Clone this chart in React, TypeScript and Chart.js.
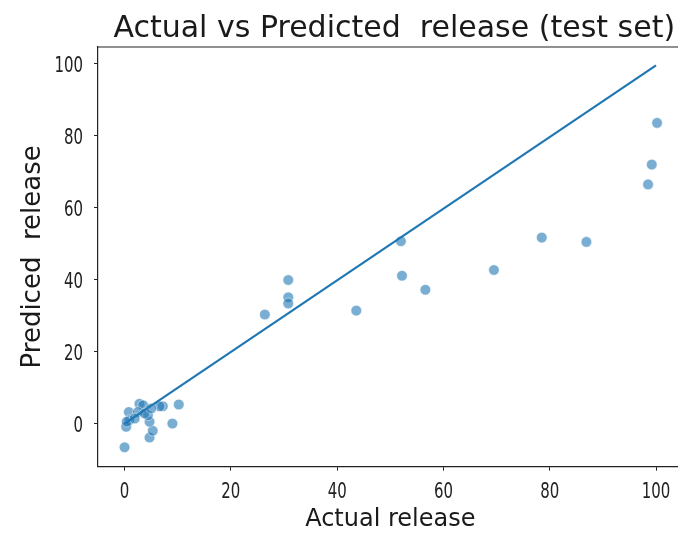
import { useEffect, useRef } from 'react';
import { Chart, registerables } from 'chart.js';
Chart.register(...registerables);

// Actual (x) and predicted (y) release values
const actualRelease = [
  100.2, 99.2, 98.5, 78.5, 86.9, 52.0, 52.2, 69.5, 56.6, 43.6, 26.4, 30.8, 30.8, 30.8,
  0.0, 4.7, 5.3, 9.0, 10.2, 7.2, 6.6, 4.7, 4.4, 2.8, 3.5, 0.8, 0.9, 0.3, 0.4, 2.5, 3.8, 1.9, 5.0,
];
const predictedRelease = [
  83.6, 72.0, 66.5, 51.7, 50.5, 50.7, 41.1, 42.7, 37.2, 31.4, 30.3, 39.9, 35.1, 33.4,
  -6.6, -3.9, -2.0, 0.0, 5.3, 4.8, 4.8, 0.5, 2.3, 5.5, 5.1, 3.2, 0.9, -0.9, 0.5, 3.2, 2.8, 1.4, 4.2,
];
// identity reference line
const lineX = [0, 100];
const lineY = [0, 99.6];

const xTicks = [0, 20, 40, 60, 80, 100];
const yTicks = [0, 20, 40, 60, 80, 100];
const xRange = [-5, 105];
const yRange = [-12, 104.7];

const titleText = 'Actual vs Predicted  release (test set)';
const xLabel = 'Actual release';
const yLabel = 'Prediced  release';

export default function App() {
  const ref = useRef<HTMLCanvasElement | null>(null);

  useEffect(() => {
    document.body.style.margin = '0';
    const canvas = ref.current;
    if (!canvas) return;

    const framePlugin = {
      id: 'frameAndTitle',
      afterDraw(chart: any) {
        const { ctx, chartArea } = chart;
        ctx.save();
        ctx.strokeStyle = '#222';
        ctx.lineWidth = 1.2;
        ctx.beginPath();
        ctx.moveTo(chartArea.left, chartArea.top);
        ctx.lineTo(chartArea.right, chartArea.top);
        ctx.lineTo(chartArea.right, chartArea.bottom);
        ctx.stroke();

        // title
        ctx.fillStyle = '#1a1a1a';
        ctx.font = '30px "DejaVu Sans"';
        ctx.textAlign = 'center';
        ctx.textBaseline = 'alphabetic';
        ctx.fillText(titleText, (chartArea.left + chartArea.right) / 2 + 4, 37);

        // narrow tick labels placed by the library's scales
        const xs = chart.scales.x;
        const ys = chart.scales.y;
        ctx.font = '22px "DejaVu Sans"';
        ctx.fillStyle = '#222';
        for (const v of xTicks) {
          const px = xs.getPixelForValue(v);
          ctx.save();
          ctx.translate(px, xs.top + 31.5);
          ctx.scale(0.68, 1);
          ctx.textAlign = 'center';
          ctx.fillText(String(v), 0, 0);
          ctx.restore();
        }
        for (const v of yTicks) {
          const py = ys.getPixelForValue(v);
          ctx.save();
          ctx.translate(ys.right - 15, py + 8);
          ctx.scale(0.68, 1);
          ctx.textAlign = 'right';
          ctx.fillText(String(v), 0, 0);
          ctx.restore();
        }
        ctx.restore();
      },
    };

    const chart = new Chart(canvas, {
      type: 'scatter',
      data: {
        datasets: [
          {
            type: 'line',
            data: lineX.map((x, i) => ({ x, y: lineY[i] })),
            borderColor: 'rgb(31,119,180)',
            borderWidth: 2.2,
            pointRadius: 0,
            fill: false,
            order: 0,
          } as any,
          {
            data: actualRelease.map((x, i) => ({ x, y: predictedRelease[i] })),
            backgroundColor: 'rgba(31,119,180,0.6)',
            borderColor: 'rgba(255,255,255,0.6)',
            borderWidth: 0.8,
            pointRadius: 5.3,
            order: 1,
          },
        ],
      },
      options: {
        responsive: false,
        animation: false,
        layout: { padding: { top: 47, right: 17.4, bottom: 0, left: 0 } },
        plugins: { legend: { display: false }, tooltip: { enabled: false }, title: { display: false } },
        scales: {
          x: {
            type: 'linear',
            min: xRange[0],
            max: xRange[1],
            afterBuildTicks: (s: any) => { s.ticks = xTicks.map((v) => ({ value: v })); },
            afterFit: (s: any) => { s.height = 73.3; },
            border: { display: true, color: '#222', width: 1.2 },
            grid: { display: true, drawOnChartArea: false, drawTicks: true, tickLength: 4, color: '#222', lineWidth: 1 },
            ticks: { display: false },
            title: {
              display: true,
              text: xLabel,
              color: '#1a1a1a',
              font: { family: '"DejaVu Sans"', size: 24 },
              padding: { top: 0, bottom: 6 },
            },
          },
          y: {
            type: 'linear',
            min: yRange[0],
            max: yRange[1],
            afterBuildTicks: (s: any) => { s.ticks = yTicks.map((v) => ({ value: v })); },
            afterFit: (s: any) => { s.width = 98; },
            border: { display: true, color: '#222', width: 1.2 },
            grid: { display: true, drawOnChartArea: false, drawTicks: true, tickLength: 4, color: '#222', lineWidth: 1 },
            ticks: { display: false },
            title: {
              display: true,
              text: yLabel,
              color: '#1a1a1a',
              font: { family: '"DejaVu Sans"', size: 26 },
              padding: { top: 17.4, bottom: 0 },
            },
          },
        },
      },
      plugins: [framePlugin],
    });
    return () => chart.destroy();
  }, []);

  return (
    <div style={{ width: 678, height: 540, overflow: 'hidden', background: '#fff' }}>
      <canvas ref={ref} width={700} height={540} style={{ width: 700, height: 540, display: 'block' }} />
    </div>
  );
}
